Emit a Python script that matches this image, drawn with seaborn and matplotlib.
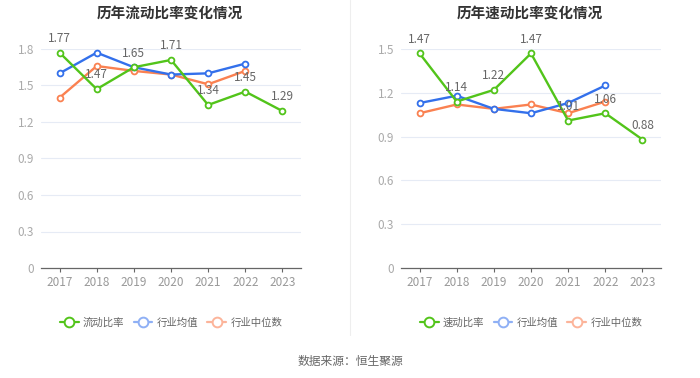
import matplotlib
matplotlib.use("Agg")
import matplotlib.pyplot as plt
import seaborn as sns
import pandas as pd
import numpy as np
from matplotlib.lines import Line2D

years = [2017, 2018, 2019, 2020, 2021, 2022, 2023]

current_ratio = [1.77, 1.47, 1.65, 1.71, 1.34, 1.45, 1.29]
current_ind_avg = [1.60, 1.77, 1.65, 1.59, 1.60, 1.68, np.nan]
current_ind_med = [1.40, 1.66, 1.62, 1.59, 1.51, 1.62, np.nan]

quick_ratio = [1.47, 1.14, 1.22, 1.47, 1.01, 1.06, 0.88]
quick_ind_avg = [1.13, 1.18, 1.09, 1.06, 1.13, 1.25, np.nan]
quick_ind_med = [1.06, 1.12, 1.09, 1.12, 1.06, 1.14, np.nan]

left_title = "历年流动比率变化情况"
right_title = "历年速动比率变化情况"
left_names = ["流动比率", "行业均值", "行业中位数"]
right_names = ["速动比率", "行业均值", "行业中位数"]
left_ticks = [0, 0.3, 0.6, 0.9, 1.2, 1.5, 1.8]
right_ticks = [0, 0.3, 0.6, 0.9, 1.2, 1.5]
source = "数据来源：恒生聚源"

sns.set_theme(style="white")
plt.rcParams['font.family'] = ['Noto Sans CJK SC', 'DejaVu Sans']

colors = ["#52c41a", "#3370eb", "#fa8151"]
legend_colors = ["#52c41a", "#8fb0f5", "#fcb49a"]

fig = plt.figure(figsize=(7, 3.78), dpi=100)


def panel(rect, title, names, series, ticks, title_x, leg_x):
    ax = fig.add_axes(rect)
    frames = []
    for n, s in zip(names, series):
        frames.append(pd.DataFrame({"year": years, "value": s, "series": n}))
    df = pd.concat(frames, ignore_index=True).dropna()
    for n, c in reversed(list(zip(names, colors))):
        sub = df[df["series"] == n]
        sns.lineplot(data=sub, x="year", y="value", ax=ax, color=c, lw=1.7,
                     marker="o", markersize=4.2, markerfacecolor="white",
                     markeredgecolor=c, markeredgewidth=1.3, legend=False,
                     zorder=3 if n == names[0] else 2)
    for x, v in zip(years, series[0]):
        ax.text(x, v + ticks[-1] * 0.035, f"{v:.2f}", ha="center", va="bottom",
                fontsize=8.5, color="#666666", zorder=5)
    ax.set_xlim(2016.5, 2023.5)
    ax.set_ylim(0, ticks[-1])
    ax.set_yticks(ticks)
    ax.set_yticklabels([("0" if t == 0 else f"{t:g}") for t in ticks])
    ax.set_xticks(years)
    ax.set_xticklabels([str(y) for y in years])
    ax.tick_params(axis="y", length=0, labelsize=8.5, labelcolor="#aaaaaa", pad=5)
    ax.tick_params(axis="x", length=3, width=0.8, color="#666666", labelsize=8.5,
                   labelcolor="#999999", pad=3, bottom=True)
    for y in ticks[1:]:
        ax.axhline(y, color="#e6ebf5", lw=0.8, zorder=0)
    for sp in ["top", "right", "left"]:
        ax.spines[sp].set_visible(False)
    ax.spines["bottom"].set_color("#666666")
    ax.spines["bottom"].set_linewidth(0.9)
    ax.set_xlabel("")
    ax.set_ylabel("")
    ax.grid(False)
    fig.text(title_x, 0.968, title, ha="center", va="center", fontsize=10.5,
             fontweight="bold", color="#333333")
    handles = [Line2D([0], [0], color=c, lw=1.6, marker="o", markersize=7,
                      markerfacecolor="white", markeredgecolor=c, markeredgewidth=1.4)
               for c in legend_colors]
    leg = fig.legend(handles, names, loc="center", bbox_to_anchor=(leg_x, 1 - 323 / 378),
                     ncol=3, frameon=False, fontsize=7.5, handlelength=1.8,
                     handletextpad=0.4, columnspacing=0.9)
    for t in leg.get_texts():
        t.set_color("#666666")
    return ax


panel([41 / 700, 1 - 268 / 378, 260 / 700, 219 / 378], left_title, left_names,
      [current_ratio, current_ind_avg, current_ind_med], left_ticks, 170 / 700, 171 / 700)
panel([401 / 700, 1 - 268 / 378, 260 / 700, 219 / 378], right_title, right_names,
      [quick_ratio, quick_ind_avg, quick_ind_med], right_ticks, 530 / 700, 531 / 700)

fig.add_artist(Line2D([350 / 700, 350 / 700], [1 - 335 / 378, 1.0], color="#eeeeee", lw=0.8))
fig.text(0.5, 1 - 361 / 378, source, ha="center", va="center", fontsize=8.5, color="#666666")

fig.savefig("out.png", dpi=100)
